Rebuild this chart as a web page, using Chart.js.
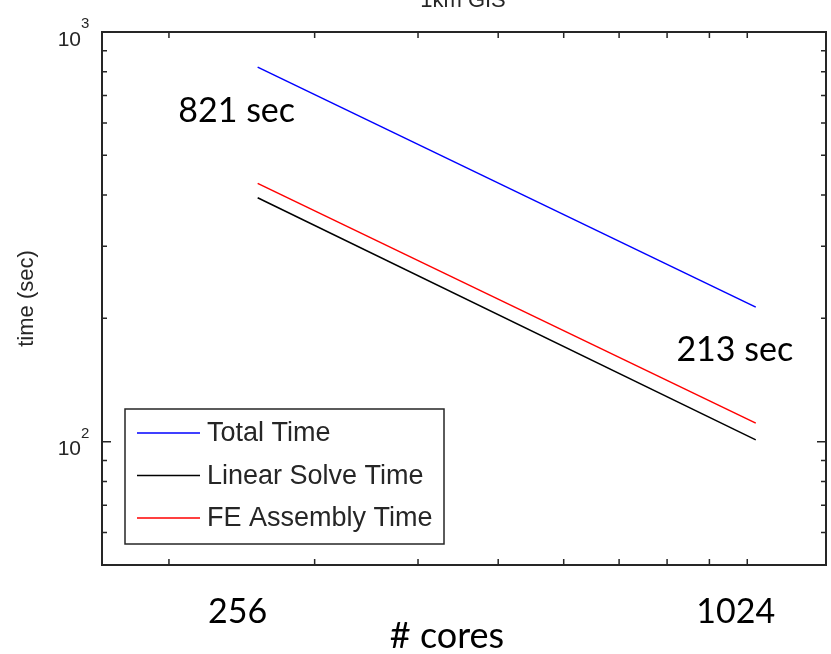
<!DOCTYPE html>
<html>
<head>
<meta charset="utf-8">
<script src="https://cdn.jsdelivr.net/npm/chart.js@4.4.0/dist/chart.umd.min.js"></script>
<style>
  body { margin: 0; background: #fff; }
  canvas { display: block; }
</style>
</head>
<body>
<canvas id="scalingChart" width="831" height="654"></canvas>
<script>
// data
var cores = [256, 1024];
var totalTime = [821, 213];
var linearSolveTime = [394, 101];
var feAssemblyTime = [427, 111];
var seriesNames = ['Total Time', 'Linear Solve Time', 'FE Assembly Time'];

// axis ticks
var xTickValues = [200, 300, 400, 500, 600, 700, 800, 900, 1000];
var xTickLabels = [256, 1024];
var yTickValues = [50, 60, 70, 80, 90, 100, 200, 300, 400, 500, 600, 700, 800, 900, 1000];
var yLabelValues = [100, 1000];

var axisColor = '#262626';
var armFont = '"Liberation Sans", Arial, sans-serif';
var bigFont = 'Lato, "Open Sans", sans-serif';

function toPoints(ys) {
    return cores.map(function (c, i) { return { x: c, y: ys[i] }; });
}

var matlabPlot = {
    id: 'matlabPlot',
    afterDatasetsDraw: function (chart) {
        var ctx = chart.ctx;
        var ca = chart.chartArea;
        var xs = chart.scales.x, ys = chart.scales.y;
        ctx.save();

        // box
        ctx.strokeStyle = axisColor;
        ctx.lineWidth = 2;
        ctx.strokeRect(ca.left, ca.top, ca.right - ca.left, ca.bottom - ca.top);

        // inward ticks
        ctx.lineWidth = 1.5;
        ctx.beginPath();
        xs.ticks.forEach(function (t) {
            var px = xs.getPixelForValue(t.value);
            ctx.moveTo(px, ca.bottom); ctx.lineTo(px, ca.bottom - 6);
            ctx.moveTo(px, ca.top); ctx.lineTo(px, ca.top + 6);
        });
        ys.ticks.forEach(function (t) {
            var py = ys.getPixelForValue(t.value);
            var len = yLabelValues.indexOf(t.value) >= 0 ? 9 : 5;
            ctx.moveTo(ca.left, py); ctx.lineTo(ca.left + len, py);
            ctx.moveTo(ca.right, py); ctx.lineTo(ca.right - len, py);
        });
        ctx.stroke();

        // y labels as 10^n
        ctx.fillStyle = axisColor;
        yLabelValues.forEach(function (v) {
            var py = ys.getPixelForValue(v);
            ctx.font = '21px ' + armFont;
            ctx.textAlign = 'right';
            ctx.textBaseline = 'middle';
            ctx.fillText('10', 81, py + 8);
            ctx.font = '15px ' + armFont;
            ctx.textAlign = 'left';
            ctx.fillText(String(Math.round(Math.log10(v))), 81, py - 8);
        });

        // y title
        ctx.save();
        ctx.translate(27, (ca.top + ca.bottom) / 2);
        ctx.rotate(-Math.PI / 2);
        ctx.font = '22px ' + armFont;
        ctx.textAlign = 'center';
        ctx.textBaseline = 'middle';
        ctx.fillText('time (sec)', 0, 0);
        ctx.restore();

        // title, clipped at top
        ctx.font = '22px ' + armFont;
        ctx.textAlign = 'center';
        ctx.textBaseline = 'alphabetic';
        ctx.fillText('1km GIS', 463, 7);

        // x labels and title
        ctx.fillStyle = '#000';
        ctx.font = '34px ' + bigFont;
        ctx.textBaseline = 'middle';
        xTickLabels.forEach(function (v) {
            ctx.fillText(String(v), xs.getPixelForValue(v) - 20, 612);
        });
        ctx.font = '36px ' + bigFont;
        ctx.fillText('# cores', 447, 636);
        ctx.font = '34px ' + bigFont;

        // time annotations at first and last total point
        var first = chart.getDatasetMeta(0).data[0];
        var last = chart.getDatasetMeta(0).data[cores.length - 1];
        ctx.fillText(totalTime[0] + ' sec', first.x - 21, first.y + 44);
        ctx.fillText(totalTime[cores.length - 1] + ' sec', last.x - 21, last.y + 43);

        // legend box
        var lx = 125, ly = 409, lw = 319, lh = 135;
        ctx.fillStyle = '#fff';
        ctx.fillRect(lx, ly, lw, lh);
        ctx.strokeStyle = axisColor;
        ctx.lineWidth = 1.5;
        ctx.strokeRect(lx, ly, lw, lh);
        ctx.font = '27px ' + armFont;
        ctx.textAlign = 'left';
        ctx.textBaseline = 'middle';
        chart.data.datasets.forEach(function (ds, i) {
            var yy = ly + 24 + i * 42.5;
            ctx.strokeStyle = ds.borderColor;
            ctx.lineWidth = 1.5;
            ctx.beginPath();
            ctx.moveTo(lx + 12, yy); ctx.lineTo(lx + 75, yy);
            ctx.stroke();
            ctx.fillStyle = axisColor;
            ctx.fillText(ds.label, lx + 82, yy + 1);
        });
        ctx.restore();
    }
};

var ctxScaling = document.getElementById('scalingChart').getContext('2d');
var scalingChart = new Chart(ctxScaling, {
    type: 'line',
    data: {
        datasets: [{
            label: seriesNames[0],
            data: toPoints(totalTime),
            borderColor: '#0000ff'
        }, {
            label: seriesNames[1],
            data: toPoints(linearSolveTime),
            borderColor: '#000000'
        }, {
            label: seriesNames[2],
            data: toPoints(feAssemblyTime),
            borderColor: '#ff0000'
        }]
    },
    options: {
        responsive: false,
        animation: false,
        elements: {
            line: { borderWidth: 1.5, tension: 0 },
            point: { radius: 0 }
        },
        layout: { padding: { top: 32, right: 5, left: 0, bottom: 0 } },
        plugins: {
            legend: { display: false },
            tooltip: { enabled: false }
        },
        scales: {
            x: {
                type: 'logarithmic',
                min: 166,
                max: 1245,
                grid: { display: false },
                border: { display: false },
                ticks: { display: false },
                afterBuildTicks: function (scale) {
                    scale.ticks = xTickValues.map(function (v) { return { value: v }; });
                },
                afterFit: function (scale) { scale.height = 89; }
            },
            y: {
                type: 'logarithmic',
                min: 50,
                max: 1000,
                grid: { display: false },
                border: { display: false },
                ticks: { display: false },
                afterBuildTicks: function (scale) {
                    scale.ticks = yTickValues.map(function (v) { return { value: v }; });
                },
                afterFit: function (scale) { scale.width = 102; }
            }
        }
    },
    plugins: [matlabPlot]
});
</script>
</body>
</html>
